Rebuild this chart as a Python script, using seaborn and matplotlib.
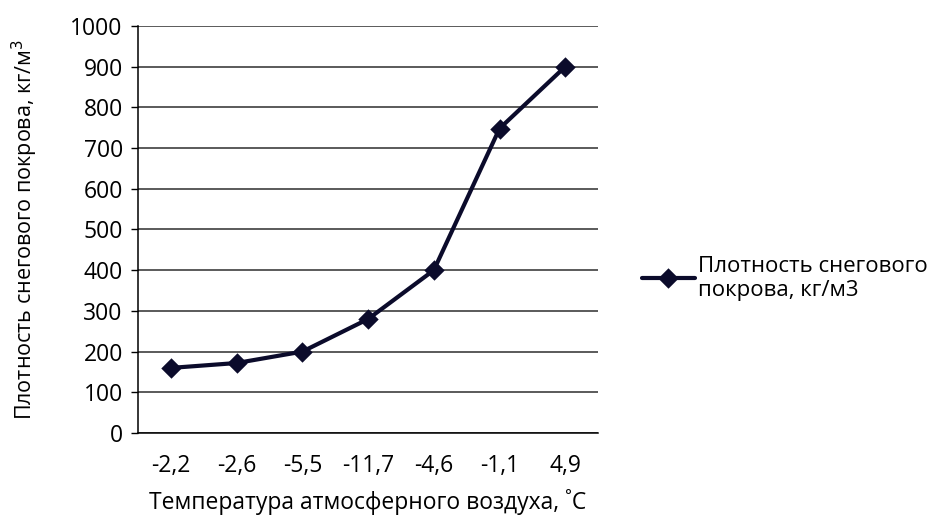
import matplotlib
matplotlib.use("Agg")
import matplotlib.pyplot as plt
import seaborn as sns

temps = ["-2,2", "-2,6", "-5,5", "-11,7", "-4,6", "-1,1", "4,9"]
density = [160, 172, 200, 280, 400, 748, 900]
yticks = [0, 100, 200, 300, 400, 500, 600, 700, 800, 900, 1000]

sns.set_style("white")
plt.rcParams["font.family"] = ["Open Sans", "DejaVu Sans"]
plt.rcParams["text.color"] = "black"
plt.rcParams["axes.labelcolor"] = "black"
plt.rcParams["xtick.color"] = "black"
plt.rcParams["ytick.color"] = "black"

fig = plt.figure(figsize=(9.39, 5.18), dpi=100)
ax = fig.add_axes([0.147, 0.164, 0.49, 0.786])

for y in yticks:
    ax.axhline(y, color="#2e2e2e", lw=1.1, zorder=0)

sns.pointplot(
    x=temps, y=density, order=temps, ax=ax,
    color="#0b0b2b", markers="D", markersize=8.5, linewidth=3,
    label="Плотность снегового\nпокрова, кг/м3",
)
if ax.get_legend() is not None:
    ax.get_legend().remove()

ax.set_ylim(0, 1000)
ax.set_xlim(-0.5, 6.5)
ax.set_yticks(yticks)
ax.set_yticklabels([str(v) for v in yticks])
ax.set_xticks(range(len(temps)))
ax.set_xticklabels(temps)
ax.tick_params(axis="y", direction="out", length=5, width=1,
               labelsize=16.5, pad=6, left=True)
ax.tick_params(axis="x", length=0, labelsize=16.5, pad=15)

for s in ["top", "right"]:
    ax.spines[s].set_visible(False)
for s in ["left", "bottom"]:
    ax.spines[s].set_color("black")
    ax.spines[s].set_linewidth(1.1)

ax.set_xlabel("Температура атмосферного воздуха, ˚С", fontsize=16.5, labelpad=8)
ax.set_ylabel("Плотность снегового покрова, кг/м$^3$", fontsize=15.5, labelpad=22)

handles, labels = ax.get_legend_handles_labels()
fig.legend(handles, labels, loc="center left", bbox_to_anchor=(0.662, 0.463),
           frameon=False, fontsize=16, handlelength=2.4, handletextpad=0.15)

fig.savefig("out.png", dpi=100)
